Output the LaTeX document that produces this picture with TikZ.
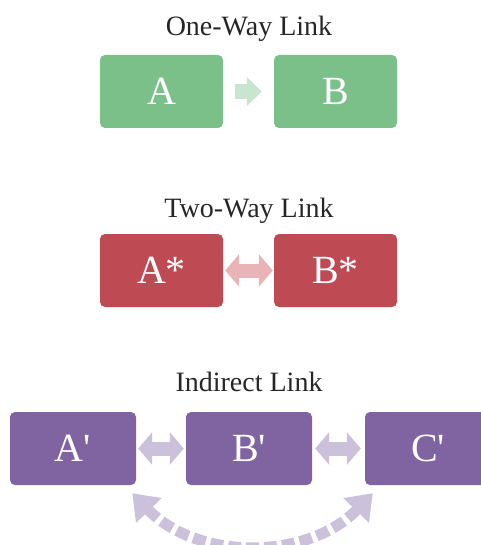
\documentclass[tikz,border=0pt]{standalone}
\usepackage{fontspec}
\setmainfont{Liberation Serif}
\usetikzlibrary{arrows.meta}

\definecolor{boxgreen}{RGB}{123,192,137}
\definecolor{lightgreen}{RGB}{200,230,206}
\definecolor{boxred}{RGB}{190,75,84}
\definecolor{lightred}{RGB}{232,180,184}
\definecolor{boxpurple}{RGB}{128,100,162}
\definecolor{lightpurple}{RGB}{204,193,218}

\tikzset{
    linkbox/.style={rectangle, rounded corners=5pt, minimum width=123pt, minimum height=73pt,
        inner sep=0pt, text=white, font=\fontsize{40}{48}\selectfont},
    linktitle/.style={anchor=base, text=black!85, font=\fontsize{28}{34}\selectfont},
    onearrow/.style={line width=15pt, -{Triangle[length=15pt,width=28pt]}},
    twoarrow/.style={line width=14pt, {Triangle[length=14pt,width=32pt]}-{Triangle[length=14pt,width=32pt]}},
}

\begin{document}
\begin{tikzpicture}[x=1pt, y=-1pt]
    \useasboundingbox (0, 0) rectangle (480, 545);

    \node[linktitle] (t1) at (249, 36) {One-Way Link};
    \node[linkbox, fill=boxgreen] (a) at (161.5, 91.5) {A};
    \node[linkbox, fill=boxgreen] (b) at (335.5, 91.5) {B};
    \draw[onearrow, lightgreen, shorten <=12pt, shorten >=12pt] (a) -- (b);

    \node[linktitle] (t2) at (249, 217) {Two-Way Link};
    \node[linkbox, fill=boxred] (as) at (161.5, 270.5) {A*};
    \node[linkbox, fill=boxred] (bs) at (335.5, 270.5) {B*};
    \draw[twoarrow, lightred, shorten <=2pt, shorten >=1pt] (as) -- (bs);

    \node[linktitle] (t3) at (249, 391) {Indirect Link};
    \node[linkbox, fill=boxpurple, minimum width=126pt] (ap) at (73, 448.5) {A\textquotesingle};
    \node[linkbox, fill=boxpurple, minimum width=126pt] (bp) at (249, 448.5) {B\textquotesingle};
    \node[linkbox, fill=boxpurple, minimum width=126pt] (cp) at (428, 448.5) {C\textquotesingle};
    \draw[twoarrow, lightpurple, shorten <=2pt, shorten >=2pt] (ap) -- (bp);
    \draw[twoarrow, lightpurple, shorten <=3pt, shorten >=4pt] (bp) -- (cp);

    \coordinate (ac1) at ([xshift=-4pt, yshift=-8pt]ap.south east);
    \coordinate (ac2) at ([xshift=8pt, yshift=-8pt]cp.south west);
    \draw[lightpurple, line width=11pt, dash pattern=on 13pt off 5pt,
        {Triangle[length=24pt,width=34pt]}-{Triangle[length=24pt,width=34pt]}]
        (ac1) to[bend right=46] (ac2);
\end{tikzpicture}
\end{document}
